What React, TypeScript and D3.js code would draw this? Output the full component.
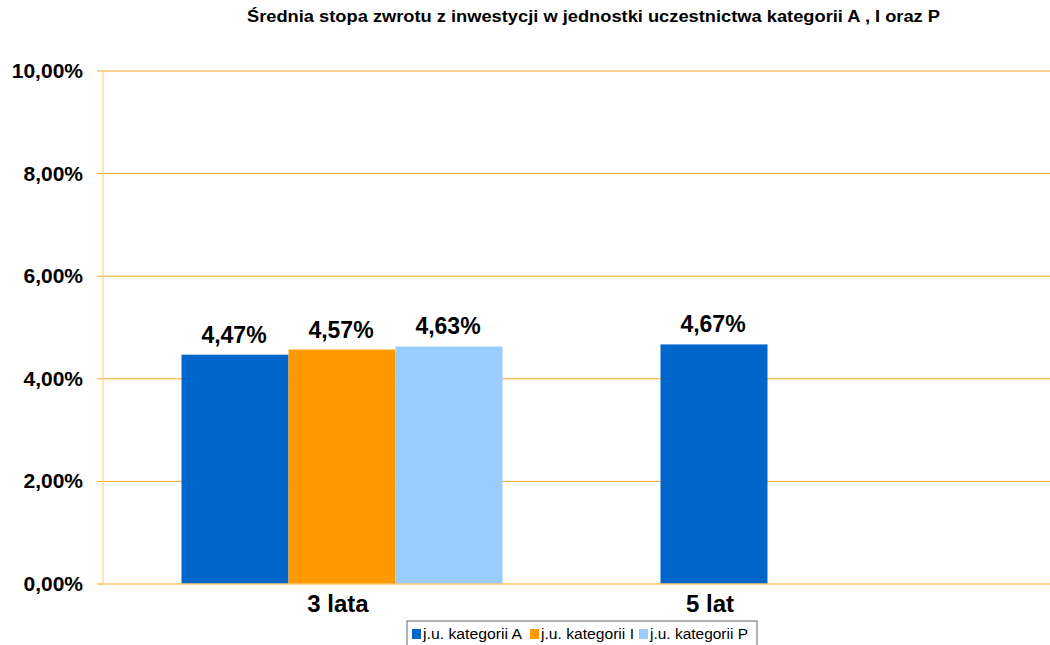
import React from "react";
import * as d3 from "d3";

const categories = ["3 lata", "5 lat"];
const seriesNames = ["j.u. kategorii A", "j.u. kategorii I", "j.u. kategorii P"];
const seriesColors = ["#0066CC", "#FF9900", "#99CCFF"];
const valuesA = [4.47, 4.67];
const valuesI: (number | null)[] = [4.57, null];
const valuesP: (number | null)[] = [4.63, null];
const yTicks = [0, 2, 4, 6, 8, 10];
const title = "Średnia stopa zwrotu z inwestycji w jednostki uczestnictwa kategorii A , I oraz P";

const W = 1050, H = 645;
const font = "'Liberation Sans', Arial, sans-serif";
const fmt = (v: number) => v.toFixed(2).replace(".", ",") + "%";

export default function App() {
  const left = 103, right = 1050, top = 71, bottom = 584;
  const y = d3.scaleLinear().domain([0, 10]).range([bottom, top]);
  const x = d3.scalePoint<string>().domain(categories).range([342, 714]);
  const barW = 107;
  const all = [valuesA, valuesI, valuesP];

  const bars: JSX.Element[] = [];
  categories.forEach((c, ci) => {
    const present = all.map((s, si) => ({ v: s[ci], si })).filter(d => d.v != null) as { v: number; si: number }[];
    const cx = x(c)!;
    const start = cx - (present.length * barW) / 2;
    present.forEach((d, k) => {
      const bx = start + k * barW;
      bars.push(
        <g key={c + d.si}>
          <rect x={bx} y={y(d.v)} width={barW} height={bottom - y(d.v)} fill={seriesColors[d.si]} />
          <text x={bx + barW / 2 - 1} y={y(d.v) - 12} textAnchor="middle" fontFamily={font} fontWeight="bold" fontSize={23} fill="#000">{fmt(d.v)}</text>
        </g>
      );
    });
  });

  const legendX = 407, legendY = 621, legendW = 350, legendH = 30;
  const legendItemX = [412, 530, 639];
  const legendTextLen = [99, 93, 98];

  return (
    <svg width={W} height={H} style={{ position: "absolute", left: 0, top: 0, background: "#fff" }}>
      <rect x={0} y={0} width={W} height={H} fill="#fff" />
      <text x={247} y={22} fontFamily={font} fontWeight="bold" fontSize={16} textLength={693} lengthAdjust="spacingAndGlyphs">{title}</text>
      {yTicks.map(t => (
        <g key={t}>
          {t > 0 && <line x1={left} x2={right} y1={y(t)} y2={y(t)} stroke="#F7A823" strokeWidth={1} />}
          <line x1={left - 6} x2={left} y1={y(t)} y2={y(t)} stroke="#F7A823" strokeWidth={1} />
          <text x={83} y={y(t) + 7} textAnchor="end" fontFamily={font} fontWeight="bold" fontSize={21}>{fmt(t)}</text>
        </g>
      ))}
      <line x1={left} x2={left} y1={top} y2={bottom} stroke="#FFC870" strokeWidth={1} />
      {bars}
      <line x1={left - 6} x2={right} y1={bottom} y2={bottom} stroke="#FFC870" strokeWidth={1.5} />
      {categories.map(c => (
        <text key={c} x={x(c)! - 4} y={612} textAnchor="middle" fontFamily={font} fontWeight="bold" fontSize={24}>{c}</text>
      ))}
      <rect x={legendX} y={legendY} width={legendW} height={legendH} fill="#fff" stroke="#666" strokeWidth={1} />
      {seriesNames.map((n, i) => (
        <g key={n}>
          <rect x={legendItemX[i]} y={629} width={9} height={10} fill={seriesColors[i]} />
          <text x={legendItemX[i] + 11} y={639} fontFamily={font} fontSize={14} textLength={legendTextLen[i]} lengthAdjust="spacingAndGlyphs">{n}</text>
        </g>
      ))}
    </svg>
  );
}
